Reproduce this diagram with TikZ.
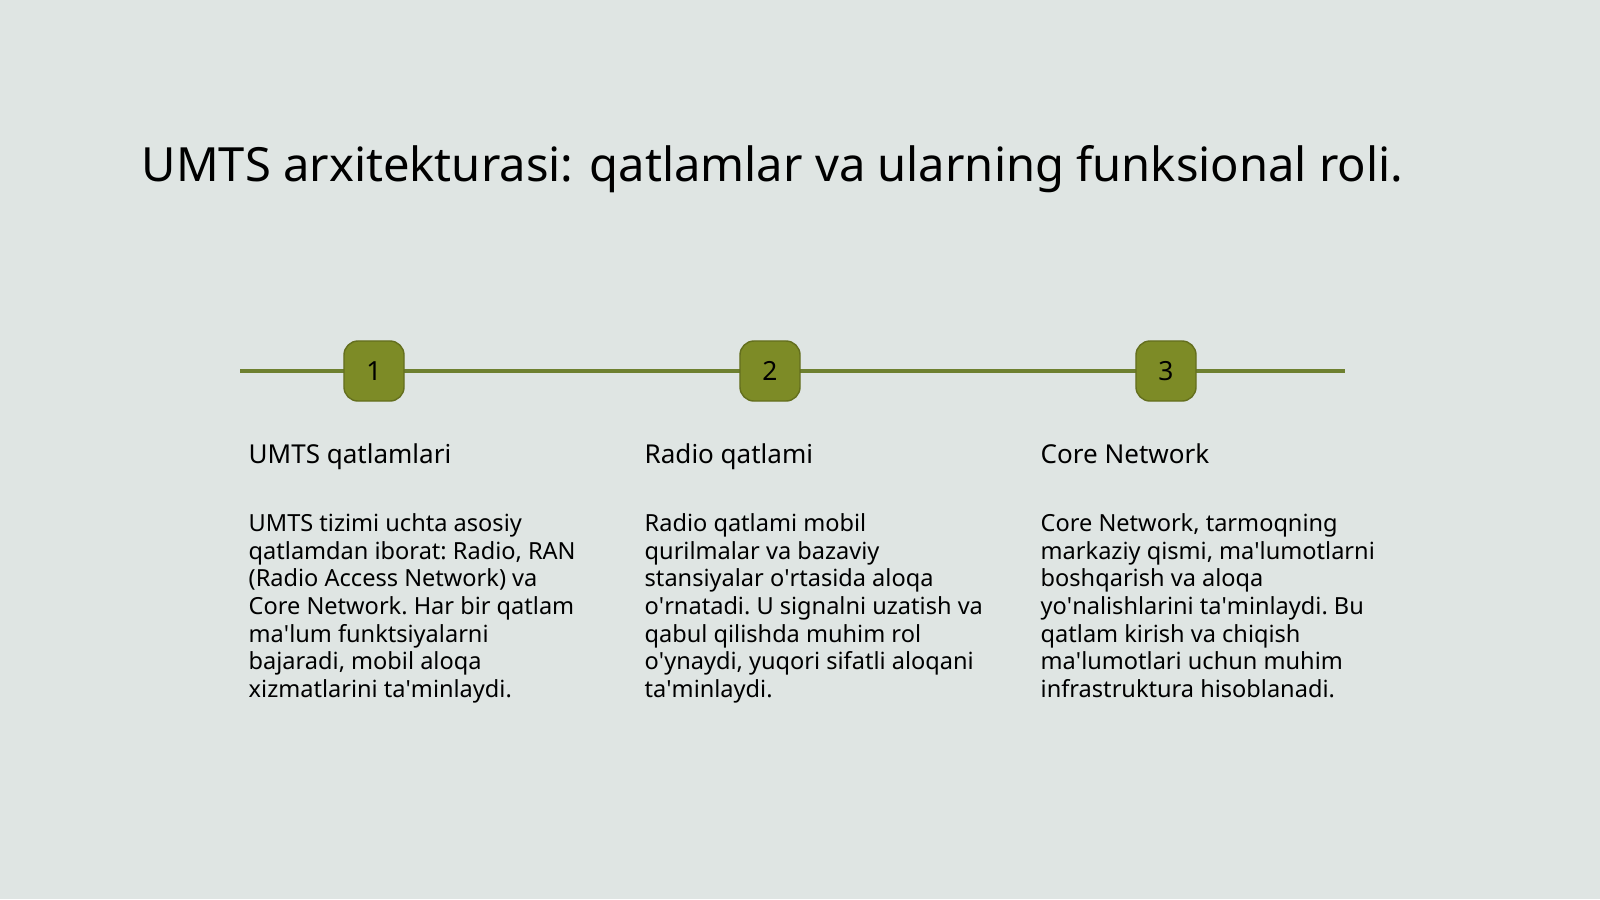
\documentclass[tikz,border=0pt]{standalone}
\usepackage{fontspec}
\setmainfont{Noto Sans}
\usetikzlibrary{positioning}
\definecolor{bgcol}{HTML}{DFE5E3}
\definecolor{olive}{HTML}{7D8B26}
\definecolor{linecol}{HTML}{6E8030}
\newcommand{\ap}{\textquotesingle}
\tikzset{
  stepbox/.style={draw=olive!80!black,fill=olive,rounded corners=4pt,minimum size=0.6cm,inner sep=0pt,font=\fontsize{7.5}{9}\selectfont},
  head/.style={anchor=base west,inner sep=0pt,font=\fontsize{7.4}{9}\selectfont\bfseries},
  body/.style={anchor=north west,inner sep=0pt,align=left,font=\fontsize{6.7}{7.85}\selectfont\frenchspacing}
}
\begin{document}
\begin{tikzpicture}[x=0.01cm,y=-0.01cm]
  \fill[bgcol](0,0) rectangle (1600,899);
  \node[anchor=base west,inner sep=0pt,font=\fontsize{13.4}{16}\selectfont] (title) at (141,181) {UMTS arxitekturasi: qatlamlar va ularning funksional roli.};
  \coordinate (lstart) at (240,371);
  \coordinate (lend) at (1345,371);
  \draw[linecol,line width=1.2pt](lstart)--(lend);
  \node[stepbox] (s1) at (374,371) {1};
  \node[stepbox] (s2) at (770,371) {2};
  \node[stepbox] (s3) at (1166,371) {3};
  % headings
  \node[head] (h1) at (248,463) {UMTS qatlamlari};
  \node[head] (h2) at (644,463) {Radio qatlami};
  \node[head] (h3) at (1040,463) {Core Network};
  % texts
  \node[body] (t1) at (248,513) {UMTS tizimi uchta asosiy\\qatlamdan iborat: Radio, RAN\\(Radio Access Network) va\\Core Network. Har bir qatlam\\ma\ap lum funktsiyalarni\\bajaradi, mobil aloqa\\xizmatlarini ta\ap minlaydi.};
  \node[body] (t2) at (644,513) {Radio qatlami mobil\\qurilmalar va bazaviy\\stansiyalar o\ap rtasida aloqa\\o\ap rnatadi. U signalni uzatish va\\qabul qilishda muhim rol\\o\ap ynaydi, yuqori sifatli aloqani\\ta\ap minlaydi.};
  \node[body] (t3) at (1040,513) {Core Network, tarmoqning\\markaziy qismi, ma\ap lumotlarni\\boshqarish va aloqa\\yo\ap nalishlarini ta\ap minlaydi. Bu\\qatlam kirish va chiqish\\ma\ap lumotlari uchun muhim\\infrastruktura hisoblanadi.};
\end{tikzpicture}
\end{document}
